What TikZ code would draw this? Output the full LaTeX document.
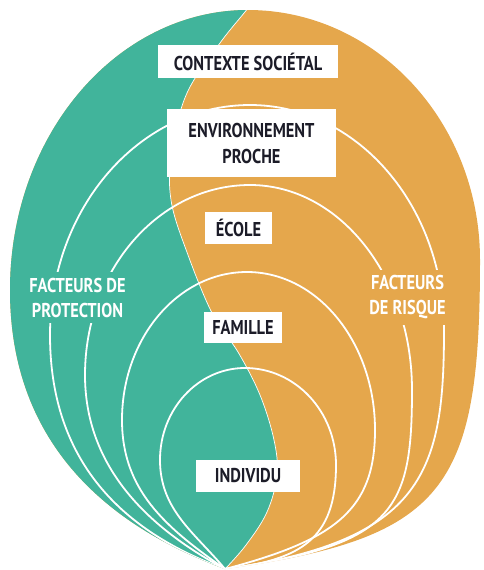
\documentclass[tikz,border=0pt]{standalone}
\usepackage{fontspec}
\setmainfont{PT Sans}[FakeStretch=0.82]
\definecolor{vert}{HTML}{41B49B}
\definecolor{orange}{HTML}{E5A74C}
\definecolor{encre}{HTML}{1C1C28}
\begin{document}
\begin{tikzpicture}[x=1pt,y=-1pt,
  ring/.style={draw=white,line width=1.8pt,line join=round},
  boxlab/.style={fill=white,text=encre,font=\fontsize{20}{26}\selectfont\bfseries,inner sep=0pt,align=center,minimum height=32pt},
  sidelab/.style={text=white,font=\fontsize{20}{25}\selectfont\bfseries,align=center,inner xsep=3pt,inner ysep=6pt}]
\useasboundingbox (0,0) rectangle (483,570);
\def\outerpath{(225,569) .. controls (103,524) and (10,440) .. (10,290)
  .. controls (10,135) and (117,10) .. (248,10)
  .. controls (376,10) and (480,122) .. (480,260)
  .. controls (480,490) and (445,538) .. (225,569) -- cycle}
\begin{scope}
  \clip \outerpath;
  \fill[orange] (0,0) rectangle (483,570);
  \fill[vert] (0,-20) -- (262,-20) -- plot[smooth,tension=0.6] coordinates {(255,-5) (248,8) (220,43) (187,93) (172,150) (171,200) (188,255) (213,315) (238,352) (260,395) (274,440) (277,475) (267,512) (246,545) (225,569)} -- (225,600) -- (0,600) -- cycle;
  \draw[white,line width=0.7pt] plot[smooth,tension=0.6] coordinates {(255,-5) (248,8) (220,43) (187,93) (172,150) (171,200) (188,255) (213,315) (238,352) (260,395) (274,440) (277,475) (267,512) (246,545) (225,569)};
  % environnement proche
  \draw[ring] (225,569) .. controls (115,529) and (50,455) .. (50,335)
    .. controls (50,208) and (139.5,105) .. (250,105)
    .. controls (357,105) and (444,205.7) .. (444,330)
    .. controls (444,470) and (425,541) .. (225,569);
  % ecole
  \draw[ring] (225,569) .. controls (145,526) and (85,465) .. (85,375)
    .. controls (85,270) and (159,185) .. (250,185)
    .. controls (339.5,185) and (412,276.8) .. (412,390)
    .. controls (412,510) and (395,545) .. (225,569);
  % famille
  \draw[ring] (225,569) .. controls (165,527) and (122,490) .. (122,420)
    .. controls (122,338.3) and (178,272) .. (247,272)
    .. controls (317.7,272) and (375,342.7) .. (375,430)
    .. controls (375,510) and (335,540) .. (225,569);
  % individu
  \draw[ring] (225,569) .. controls (195,533) and (160,510) .. (160,460)
    .. controls (160,409.2) and (198,368) .. (245,368)
    .. controls (295.3,368) and (336,411.4) .. (336,465)
    .. controls (336,540) and (300,560) .. (225,569);
\end{scope}
\node[sidelab,fill=vert] (prot) at (77.5,297.5) {FACTEURS DE\\PROTECTION};
\node[sidelab,fill=orange] (risq) at (407.5,297.5) {FACTEURS\\DE RISQUE};
\node[boxlab,minimum width=180pt,minimum height=33pt] (ctx) at (248,61.5) {CONTEXTE SOCIÉTAL};
\node[boxlab,minimum width=169pt,minimum height=68pt] (env) at (251.5,143) {ENVIRONNEMENT\\PROCHE};
\node[boxlab,minimum width=67pt] (eco) at (238.5,228) {ÉCOLE};
\node[boxlab,minimum width=78pt,minimum height=31pt] (fam) at (243,327.5) {FAMILLE};
\node[boxlab,minimum width=104pt] (ind) at (248,476) {INDIVIDU};
\end{tikzpicture}
\end{document}
